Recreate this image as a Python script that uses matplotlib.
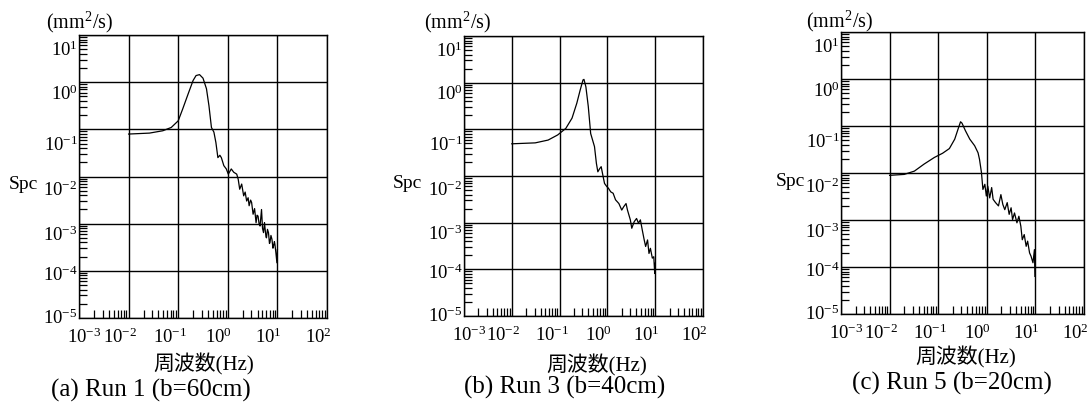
import numpy as np
import matplotlib
matplotlib.use("Agg")
import matplotlib.pyplot as plt
from matplotlib import ticker
from matplotlib.transforms import ScaledTranslation

plt.rcParams['font.family'] = ['Liberation Serif', 'Noto Sans CJK JP']
plt.rcParams['mathtext.fontset'] = 'stix'
plt.rcParams['axes.unicode_minus'] = False

#%% data (log10 of frequency [Hz] and of spectrum [mm^2/s])
f1 = [-2.0, -1.58, -1.31, -1.14, -1.0, -0.91, -0.80, -0.70, -0.64, -0.57, -0.50,
      -0.43, -0.38, -0.33, -0.28, -0.24, -0.20, -0.16, -0.13, -0.08, -0.03, 0.01,
      0.07, 0.12, 0.18, 0.21, 0.24, 0.28, 0.32, 0.35, 0.38, 0.41, 0.43, 0.46, 0.48,
      0.51, 0.54, 0.57, 0.59, 0.61, 0.63, 0.65, 0.68, 0.70, 0.72, 0.74, 0.75, 0.77,
      0.78, 0.80, 0.82, 0.84, 0.85, 0.87, 0.89, 0.91, 0.92, 0.94, 0.95, 0.97, 0.99, 1.0]
s1 = [-1.10, -1.08, -1.03, -0.96, -0.82, -0.57, -0.25, 0.035, 0.14, 0.16, 0.085,
      -0.14, -0.50, -0.96, -1.06, -1.28, -1.60, -1.55, -1.60, -1.77, -1.84, -1.95,
      -1.84, -1.91, -1.95, -2.06, -2.27, -2.16, -2.41, -2.33, -2.52, -2.45, -2.62, -2.50, -2.55,
      -2.80, -2.68, -2.98, -2.82, -2.84, -3.00, -3.05, -2.70, -3.10, -3.19, -2.98, -3.09, -3.28,
      -3.30, -3.12, -3.19, -3.42, -3.40, -3.25, -3.33, -3.52, -3.48, -3.38, -3.44, -3.62, -3.83, -3.55]

f2 = [-2.0, -1.51, -1.24, -1.04, -0.87, -0.74, -0.64, -0.57, -0.51, -0.49, -0.45,
      -0.40, -0.35, -0.31, -0.27, -0.23, -0.20, -0.16, -0.13, -0.09, -0.06, -0.01,
      0.02, 0.07, 0.12, 0.17, 0.24, 0.30, 0.34, 0.39, 0.42, 0.48, 0.51, 0.56, 0.61,
      0.65, 0.69, 0.73, 0.77, 0.80, 0.84, 0.87, 0.90, 0.94, 0.97, 0.99, 1.0]
s2 = [-1.31, -1.29, -1.23, -1.12, -0.98, -0.76, -0.44, -0.16, 0.06, 0.07, -0.09,
      -0.51, -1.09, -1.23, -1.37, -1.73, -1.91, -1.84, -1.80, -2.01, -2.16, -2.23,
      -2.26, -2.34, -2.37, -2.51, -2.59, -2.73, -2.66, -2.59, -2.73, -2.94, -3.12, -2.98, -2.91,
      -3.01, -2.94, -3.16, -3.37, -3.51, -3.37, -3.66, -3.55, -3.76, -3.73, -4.09, -3.87]

f3 = [-2.0, -1.70, -1.49, -1.29, -1.08, -0.91, -0.77, -0.66, -0.58, -0.54, -0.51,
      -0.44, -0.35, -0.25, -0.18, -0.15, -0.11, -0.08, -0.04, -0.01, 0.02, 0.06,
      0.10, 0.13, 0.18, 0.24, 0.29, 0.33, 0.37, 0.42, 0.46, 0.50, 0.53, 0.57, 0.62,
      0.66, 0.70, 0.73, 0.77, 0.81, 0.84, 0.88, 0.91, 0.95, 0.98, 0.99]
s3 = [-2.05, -2.03, -1.96, -1.81, -1.67, -1.58, -1.48, -1.28, -1.03, -0.91, -0.94,
      -1.10, -1.28, -1.42, -1.57, -1.71, -1.99, -2.35, -2.24, -2.49, -2.28, -2.53,
      -2.31, -2.56, -2.63, -2.70, -2.46, -2.67, -2.78, -2.63, -2.88, -2.74, -2.99, -2.85, -3.06,
      -2.92, -3.13, -3.42, -3.31, -3.56, -3.45, -3.70, -3.77, -3.91, -3.63, -4.20]

freqs = [f1, f2, f3]
spcs = [s1, s2, s3]
titles = ['(a) Run 1 (b=60cm)', '(b) Run 3 (b=40cm)', '(c) Run 5 (b=20cm)']
xticks = [1e-3, 1e-2, 1e-1, 1e0, 1e1, 1e2]
yticks = [1e-5, 1e-4, 1e-3, 1e-2, 1e-1, 1e0, 1e1]

#%% layout in pixels
W, H = 1092, 406
boxes = [(79, 36, 327, 319), (464, 37, 703, 317), (841, 33, 1084, 315)]
unit_pos = [(80, 22), (458, 22), (840, 21)]
spc_pos = [(23, 185), (407, 183), (790, 182)]
xlab_pos = [(204, 364), (597, 365), (966, 357)]
title_pos = [(151, 390), (565, 387), (952, 383)]
ylab_shift = [-3, 1, 9, 11, 13, 9, 12]
xlab_shift = [5, -9, -8, -9, -9, -9]

fig = plt.figure(figsize=(W / 100, H / 100), dpi=100)

for i in range(3):
    l, t, r, b = boxes[i]
    ax = fig.add_axes([l / W, 1 - b / H, (r - l) / W, (b - t) / H])
    ax.plot(10 ** np.array(freqs[i]), 10 ** np.array(spcs[i]), color='black', lw=0.9)
    ax.set_xscale('log')
    ax.set_yscale('log')
    ax.set_xlim(1e-3, 1e2)
    ax.set_ylim(1e-5, 1e1)
    ax.set_xticks(xticks)
    ax.set_yticks(yticks)
    ax.xaxis.set_minor_locator(ticker.LogLocator(base=10, subs=np.arange(2, 10), numticks=100))
    ax.yaxis.set_minor_locator(ticker.LogLocator(base=10, subs=np.arange(2, 10), numticks=100))
    ax.xaxis.set_minor_formatter(ticker.NullFormatter())
    ax.yaxis.set_minor_formatter(ticker.NullFormatter())
    ax.grid(True, which='major', color='black', lw=1.0)
    ax.tick_params(which='both', direction='in', top=False, right=False, labelsize=13.5)
    ax.tick_params(which='major', length=0)
    ax.tick_params(axis='x', which='major', pad=6)
    ax.tick_params(axis='y', which='major', pad=1)
    ax.tick_params(which='minor', length=6, width=0.9)
    for sp in ax.spines.values():
        sp.set_linewidth(1.0)

    for k, lab in enumerate(ax.get_xticklabels()):
        lab.set_transform(lab.get_transform() + ScaledTranslation(xlab_shift[k] / 100, 0, fig.dpi_scale_trans))
    for k, lab in enumerate(ax.get_yticklabels()):
        lab.set_transform(lab.get_transform() + ScaledTranslation(0, -ylab_shift[k] / 100, fig.dpi_scale_trans))

    fig.text(unit_pos[i][0] / W, 1 - unit_pos[i][1] / H, r'(mm$^{\mathdefault{2}}$/s)',
             ha='center', va='center', fontsize=14.5)
    fig.text(spc_pos[i][0] / W, 1 - spc_pos[i][1] / H, 'Spc', ha='center', va='center', fontsize=14)
    fig.text(xlab_pos[i][0] / W, 1 - xlab_pos[i][1] / H, '周波数(Hz)', ha='center', va='center', fontsize=15)
    fig.text(title_pos[i][0] / W, 1 - title_pos[i][1] / H, titles[i], ha='center', va='center', fontsize=18)

plt.savefig('out.png', dpi=100)
